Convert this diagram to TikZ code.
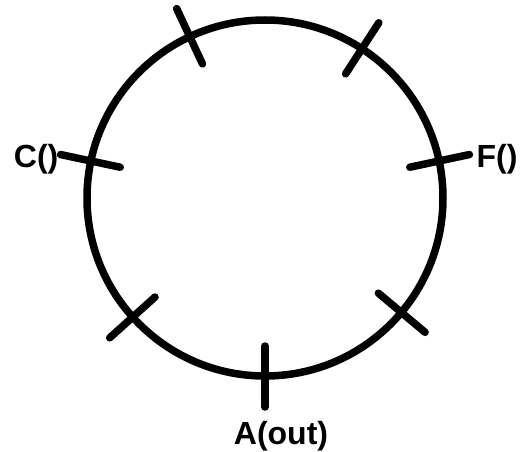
\documentclass[tikz,border=0pt]{standalone}
\usepackage{fontspec}
\setmainfont{Liberation Sans}
\usepackage{xcolor}
\definecolor{cInk}{HTML}{000000}
\usepackage{tikz}
\usetikzlibrary{positioning,calc}
\tikzset{
  ring/.style={draw=cInk,line width=7.5pt},
  ring-tick/.style={draw=cInk,line width=7.5pt,line cap=round},
  port-label/.style={font=\bfseries\fontsize{32}{36}\selectfont,text=cInk,inner sep=0pt},
}

\begin{document}
\begin{tikzpicture}[x=1pt,y=1pt]
  \useasboundingbox (0,0) rectangle (523,451);
  \coordinate (o) at (265,253);
  \draw[ring] (o) circle[radius=178];
  % ticks on the ring: angle/name
  \foreach \ang/\nm in {270/a,168/c,12/f,115/p,57/q,222/r,320/s}{
    \coordinate (\nm-in) at ($(o)+(\ang:148)$);
    \coordinate (\nm-out) at ($(o)+(\ang:209)$);
    \draw[ring-tick] (\nm-in) -- (\nm-out);
  }
  \node[port-label,left=2pt of c-out,yshift=-5pt] (lc) {C()};
  \node[port-label,right=7pt of f-out,yshift=-5pt] (lf) {F()};
  \node[port-label,below=14pt of a-out,xshift=16pt] (la) {A(out)};
\end{tikzpicture}
\end{document}
